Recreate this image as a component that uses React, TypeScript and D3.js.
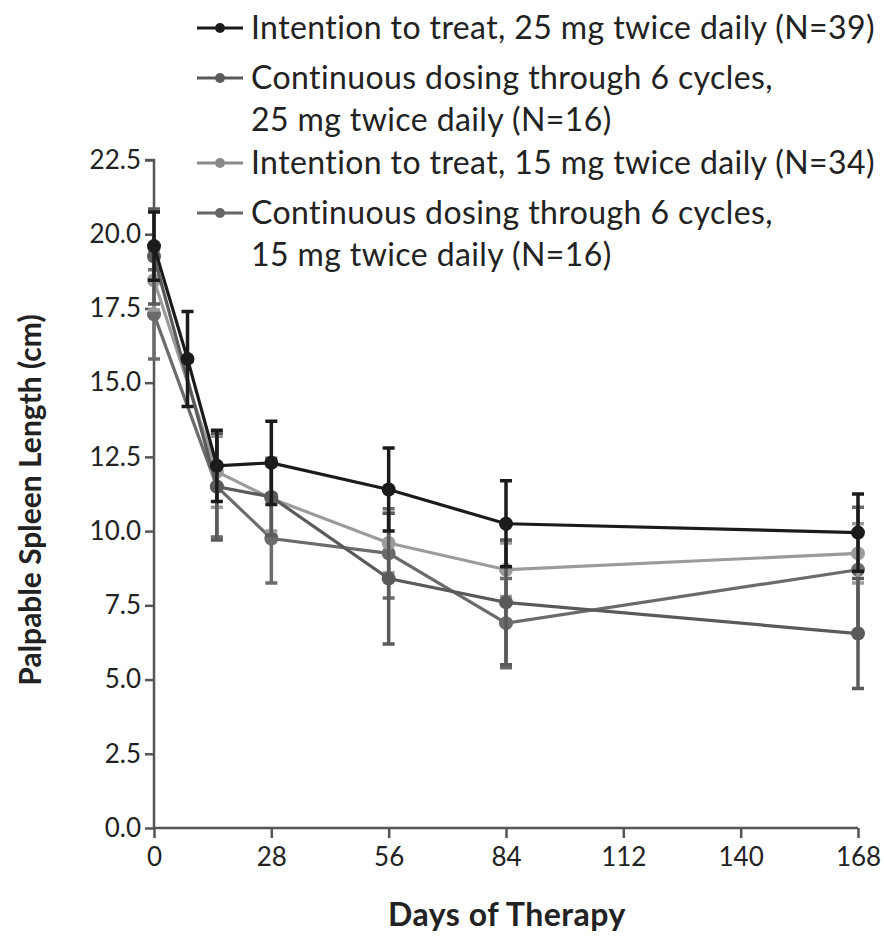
import { useEffect, useRef } from "react";
import * as d3 from "d3";

// days on which spleen length was measured
const days = [0, 8, 15, 28, 56, 84, 168];

// mean palpable spleen length (cm) and error bar half-widths; null = not measured
const itt25 = [19.6, 15.8, 12.2, 12.3, 11.4, 10.25, 9.95];
const itt25Err = [1.15, 1.6, 1.2, 1.4, 1.4, 1.45, 1.3];
const cont25 = [19.25, null, 11.5, 11.15, 8.4, 7.6, 6.55];
const cont25Err = [1.6, null, 1.8, 1.3, 2.2, 2.1, 1.85];
const itt15 = [18.45, null, 12.0, 11.1, 9.6, 8.7, 9.25];
const itt15Err = [1.0, null, 1.2, 1.1, 1.0, 0.9, 1.0];
const cont15 = [17.3, null, 11.5, 9.75, 9.25, 6.9, 8.7];
const cont15Err = [1.5, null, 1.7, 1.5, 1.5, 1.5, 2.1];

const xTicks = [0, 28, 56, 84, 112, 140, 168];
const yTicks = [0, 2.5, 5, 7.5, 10, 12.5, 15, 17.5, 20, 22.5];

const legendLabels = [
  ["Intention to treat, 25 mg twice daily (N=39)"],
  ["Continuous dosing through 6 cycles,", "25 mg twice daily (N=16)"],
  ["Intention to treat, 15 mg twice daily (N=34)"],
  ["Continuous dosing through 6 cycles,", "15 mg twice daily (N=16)"],
];

const App = () => {
  const ref = useRef(null);

  useEffect(() => {
    const W = 884;
    const H = 941;
    const svg = d3
      .select(ref.current)
      .append("svg")
      .attr("width", W)
      .attr("height", H)
      .style("position", "absolute")
      .style("left", 0)
      .style("top", 0)
      .style("background", "#fff");

    const font = "Lato, 'Open Sans', sans-serif";
    const axisColor = "#555";

    const x = d3.scaleLinear().domain([0, 168]).range([154, 858]);
    const y = d3.scaleLinear().domain([0, 22.5]).range([828, 160]);

    const series = [
      { vals: cont15, err: cont15Err, color: "#6b6b6b" },
      { vals: itt15, err: itt15Err, color: "#9b9b9b" },
      { vals: cont25, err: cont25Err, color: "#5a5a5a" },
      { vals: itt25, err: itt25Err, color: "#1b1b1b" },
    ];
    const legendColors = ["#1b1b1b", "#5a5a5a", "#8a8a8a", "#666"];

    // axes
    const yAxis = svg
      .append("g")
      .attr("transform", `translate(${x(0)},0)`)
      .call(
        d3
          .axisLeft(y)
          .tickValues(yTicks)
          .tickSize(9)
          .tickPadding(4)
          .tickFormat(d3.format(".1f"))
      );
    const xAxis = svg
      .append("g")
      .attr("transform", `translate(0,${y(0)})`)
      .call(d3.axisBottom(x).tickValues(xTicks).tickSize(10).tickPadding(6));

    [yAxis, xAxis].forEach((a) => {
      a.select(".domain").attr("stroke", axisColor).attr("stroke-width", 2.5);
      a.selectAll(".tick line").attr("stroke", axisColor).attr("stroke-width", 2.5);
      a.selectAll("text")
        .attr("fill", "#222")
        .style("font-family", font)
        .style("font-size", "26px");
    });
    yAxis.select(".domain").attr("d", `M-9,${y(22.5)}H0V${y(0)}`);
    xAxis.select(".domain").attr("d", `M${x(0)},0H${x(168)}`);
    xAxis.selectAll("text").attr("dy", "0.85em");

    // series
    series.forEach((s) => {
      const pts = days
        .map((d, i) => ({ d, v: s.vals[i], e: s.err[i] }))
        .filter((p) => p.v !== null);
      const g = svg.append("g");

      g.selectAll(".eb")
        .data(pts)
        .enter()
        .append("path")
        .attr(
          "d",
          (p) =>
            `M${x(p.d)},${y(p.v - p.e)}V${y(p.v + p.e)}` +
            `M${x(p.d) - 6},${y(p.v + p.e)}H${x(p.d) + 6}` +
            `M${x(p.d) - 6},${y(p.v - p.e)}H${x(p.d) + 6}`
        )
        .attr("stroke", s.color)
        .attr("stroke-width", 3.5)
        .attr("fill", "none");

      g.append("path")
        .datum(pts)
        .attr(
          "d",
          d3
            .line()
            .x((p) => x(p.d))
            .y((p) => y(p.v))
        )
        .attr("fill", "none")
        .attr("stroke", s.color)
        .attr("stroke-width", 3.2);

      g.selectAll("circle")
        .data(pts)
        .enter()
        .append("circle")
        .attr("cx", (p) => x(p.d))
        .attr("cy", (p) => y(p.v))
        .attr("r", 7)
        .attr("fill", s.color);
    });

    // legend
    const rows = [28, 78, 163, 213];
    legendLabels.forEach((lines, i) => {
      const cy = rows[i];
      svg
        .append("line")
        .attr("x1", 197)
        .attr("x2", 243)
        .attr("y1", cy)
        .attr("y2", cy)
        .attr("stroke", legendColors[i])
        .attr("stroke-width", 3);
      svg
        .append("circle")
        .attr("cx", 220)
        .attr("cy", cy)
        .attr("r", 5)
        .attr("fill", legendColors[i]);
      lines.forEach((t, j) => {
        svg
          .append("text")
          .attr("x", 251)
          .attr("y", cy + j * 42)
          .attr("dy", "0.35em")
          .style("font-family", font)
          .style("font-size", "32px")
          .style("letter-spacing", "0.4px")
          .attr("fill", "#222")
          .text(t);
      });
    });

    // axis titles
    svg
      .append("text")
      .attr("transform", `translate(30,500) rotate(-90)`)
      .attr("text-anchor", "middle")
      .attr("dy", "0.35em")
      .style("font-family", font)
      .style("font-size", "30px")
      .style("font-weight", "bold")
      .attr("fill", "#222")
      .text("Palpable Spleen Length (cm)");

    svg
      .append("text")
      .attr("x", 507)
      .attr("y", 915)
      .attr("text-anchor", "middle")
      .attr("dy", "0.35em")
      .style("font-family", font)
      .style("font-size", "32px")
      .style("font-weight", "bold")
      .style("letter-spacing", "0.5px")
      .attr("fill", "#222")
      .text("Days of Therapy");

    return () => {
      svg.remove();
    };
  }, []);

  return <div ref={ref}></div>;
};

export default App;
